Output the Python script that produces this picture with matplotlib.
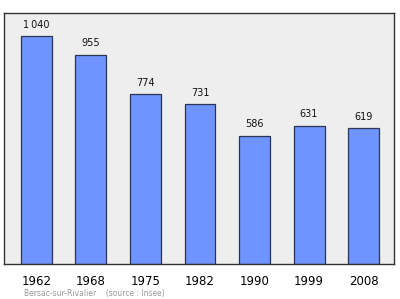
import matplotlib
matplotlib.use('Agg')
import matplotlib.pyplot as plt

# Population data
years = ['1962', '1968', '1975', '1982', '1990', '1999', '2008']
population = [1040, 955, 774, 731, 586, 631, 619]
value_labels = ['1\u2009040', '955', '774', '731', '586', '631', '619']


def main():
    fig = plt.figure(figsize=(4.0, 2.99), dpi=100)
    ax = fig.add_axes([0.01, 0.117, 0.975, 0.8395])
    ax.set_facecolor('#eeeeee')

    x = range(len(years))
    ax.bar(x, population, width=0.567, color='#6f94ff', edgecolor='#2b3552', linewidth=0.9)

    # Values above the bars
    for i, (val, lab) in enumerate(zip(population, value_labels)):
        ax.annotate(lab, (i, val), xytext=(0, 4.5), textcoords='offset points',
                    ha='center', va='bottom', fontsize=7, color='#111111')

    ax.set_xlim(-0.594, 6.558)
    ax.set_ylim(0, 1145)
    ax.set_yticks([])
    ax.set_xticks(list(x))
    ax.set_xticklabels(years, fontsize=8.5)
    ax.tick_params(axis='x', length=0, pad=8)
    for s in ax.spines.values():
        s.set_color('#333333')
        s.set_linewidth(1.0)

    fig.text(0.06, 0.01, 'Bersac-sur-Rivalier    (source : Insee)', fontsize=5.5, color='#999999')

    fig.savefig('out.png', dpi=100)


if __name__ == '__main__':
    main()
